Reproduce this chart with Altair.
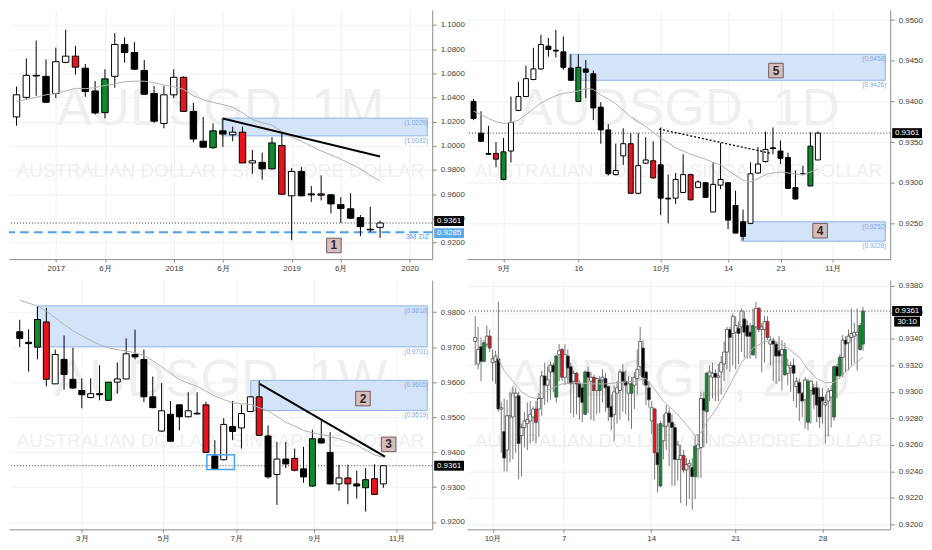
import altair as alt
import pandas as pd

CUR = 0.9361
W, H = 426, 251
FONT = "Liberation Sans"
SUBTITLE = "AUSTRALIAN DOLLAR / SINGAPORE DOLLAR"

# ---------------- Panel 1 : monthly ----------------
m_open = [1.0239, 1.0401, 1.0583, 1.0575, 1.0433, 1.0691, 1.0742, 1.0642, 1.0454, 1.0274,
          1.0575, 1.0839, 1.0772, 1.0624, 1.0433, 1.0185, 1.0422, 1.0567, 1.0285, 1.0038,
          0.9984, 1.0124, 1.0091, 1.0113, 0.9858, 0.9863, 0.9809, 1.0003, 0.9586, 0.9788,
          0.9602, 0.9602, 0.9594, 0.9513, 0.9478, 0.9406, 0.9309, 0.9325]
m_high = [1.0489, 1.0723, 1.0871, 1.0715, 1.0812, 1.0960, 1.0825, 1.0677, 1.0535, 1.0634,
          1.0933, 1.0898, 1.0858, 1.0710, 1.0495, 1.0495, 1.0634, 1.0575, 1.0355, 1.0239,
          1.0185, 1.0226, 1.0159, 1.0159, 0.9965, 0.9944, 1.0070, 1.0105, 0.9815, 0.9823,
          0.9667, 0.9755, 0.9602, 0.9575, 0.9608, 0.9427, 0.9495, 0.9379]
m_low = [1.0167, 1.0382, 1.0414, 1.0360, 1.0395, 1.0683, 1.0589, 1.0406, 1.0258, 1.0226,
         1.0481, 1.0688, 1.0629, 1.0422, 1.0191, 1.0145, 1.0395, 1.0285, 1.0030, 0.9984,
         0.9976, 0.9989, 1.0038, 0.9858, 0.9769, 0.9720, 0.9804, 0.9594, 0.9218, 0.9581,
         0.9535, 0.9548, 0.9441, 0.9360, 0.9393, 0.9253, 0.9285, 0.9237]
m_close = [1.0422, 1.0583, 1.0578, 1.0360, 1.0696, 1.0742, 1.0651, 1.0449, 1.0272, 1.0554,
           1.0839, 1.0772, 1.0634, 1.0427, 1.0204, 1.0422, 1.0567, 1.0285, 1.0056, 0.9989,
           1.0124, 1.0097, 1.0113, 0.9858, 0.9876, 0.9809, 1.0024, 0.9599, 0.9788, 0.9586,
           0.9594, 0.9591, 0.9519, 0.9481, 0.9401, 0.9331, 0.9304, 0.9361]
m_kind = list("wwbbwwrbbg" "wbbbbwwrbb" "gbwrwbgrwb" "brbbbbbw")
m_ma = [1.0366, 1.0384, 1.0401, 1.0422, 1.0433, 1.0454, 1.0476, 1.0473, 1.0481, 1.0500,
        1.0513, 1.0530, 1.0535, 1.0535, 1.0522, 1.0503, 1.0489, 1.0468, 1.0414, 1.0382,
        1.0360, 1.0341, 1.0320, 1.0272, 1.0218, 1.0191, 1.0172, 1.0118, 1.0073, 1.0038,
        0.9997, 0.9957, 0.9925, 0.9890, 0.9850, 0.9809, 0.9755, 0.9710]
m_xdom = [-0.26, 41.8]
m_ydom = [0.9062, 1.1126]
m_xticks = [4, 9, 16, 21, 28, 33, 40]
m_xlabels = ["2017", "6月", "2018", "6月", "2019", "6月", "2020"]
m_yticks = [0.92, 0.94, 0.96, 0.98, 1.00, 1.02, 1.04, 1.06, 1.08, 1.10]
m_zones = [(20.9, 41.8, 1.0229, 1.0082)]
m_trend = [([21, 37], [1.0226, 0.9911])]
m_boxes = [(32.3, 0.9175, "1")]
m_dz = 0.9285

# ---------------- Panel 2 : daily ----------------
d_open = [0.9400, 0.9361, 0.9336, 0.9336, 0.9304, 0.9339, 0.9389, 0.9406, 0.9427, 0.9440,
          0.9468, 0.9463, 0.9461, 0.9441, 0.9400, 0.9440, 0.9434, 0.9393, 0.9365, 0.9310,
          0.9333, 0.9348, 0.9287, 0.9324, 0.9327, 0.9322, 0.9281, 0.9281, 0.9288, 0.9310,
          0.9294, 0.9300, 0.9264, 0.9297, 0.9300, 0.9272, 0.9252, 0.9250, 0.9312, 0.9326,
          0.9343, 0.9339, 0.9331, 0.9294, 0.9311, 0.9296, 0.9328]
d_high = [0.9403, 0.9388, 0.9370, 0.9350, 0.9355, 0.9406, 0.9424, 0.9444, 0.9466, 0.9482,
          0.9478, 0.9488, 0.9480, 0.9458, 0.9458, 0.9451, 0.9438, 0.9399, 0.9372, 0.9348,
          0.9367, 0.9361, 0.9361, 0.9356, 0.9351, 0.9368, 0.9310, 0.9312, 0.9335, 0.9311,
          0.9303, 0.9301, 0.9325, 0.9349, 0.9301, 0.9290, 0.9267, 0.9325, 0.9344, 0.9363,
          0.9368, 0.9352, 0.9337, 0.9315, 0.9321, 0.9362, 0.9363]
d_low = [0.9377, 0.9350, 0.9334, 0.9319, 0.9303, 0.9325, 0.9388, 0.9406, 0.9426, 0.9439,
         0.9455, 0.9454, 0.9439, 0.9426, 0.9399, 0.9404, 0.9377, 0.9348, 0.9309, 0.9309,
         0.9322, 0.9286, 0.9286, 0.9324, 0.9305, 0.9260, 0.9250, 0.9274, 0.9287, 0.9278,
         0.9294, 0.9282, 0.9264, 0.9292, 0.9243, 0.9238, 0.9229, 0.9249, 0.9311, 0.9325,
         0.9335, 0.9323, 0.9293, 0.9279, 0.9309, 0.9296, 0.9328]
d_close = [0.9379, 0.9351, 0.9335, 0.9329, 0.9338, 0.9374, 0.9406, 0.9428, 0.9440, 0.9470,
           0.9464, 0.9462, 0.9442, 0.9426, 0.9442, 0.9436, 0.9392, 0.9365, 0.9311, 0.9315,
           0.9348, 0.9287, 0.9321, 0.9328, 0.9306, 0.9281, 0.9280, 0.9304, 0.9310, 0.9279,
           0.9301, 0.9282, 0.9298, 0.9304, 0.9254, 0.9238, 0.9234, 0.9311, 0.9323, 0.9341,
           0.9342, 0.9330, 0.9293, 0.9280, 0.9311, 0.9345, 0.9361]
d_kind = list("bbbrgwwwww" "bbbbgbbbbw" "wrwwrbbwwr" "wbwwbbbwww" "bbbbbgw")
d_ma = [0.9388, 0.9384, 0.9379, 0.9375, 0.9373, 0.9374, 0.9377, 0.9384, 0.9391, 0.9398,
        0.9403, 0.9407, 0.9410, 0.9411, 0.9413, 0.9416, 0.9415, 0.9408, 0.9403, 0.9397,
        0.9389, 0.9381, 0.9375, 0.9369, 0.9362, 0.9355, 0.9349, 0.9343, 0.9339, 0.9335,
        0.9332, 0.9329, 0.9325, 0.9322, 0.9315, 0.9309, 0.9303, 0.9301, 0.9305, 0.9310,
        0.9312, 0.9313, 0.9312, 0.9311, 0.9310, 0.9313, 0.9317]
d_xdom = [-0.21, 55.0]
d_ydom = [0.9206, 0.95128]
d_xticks = [4, 14, 25, 34, 41, 48]
d_xlabels = ["9月", "16", "10月", "14", "23", "11月"]
d_yticks = [0.925, 0.930, 0.935, 0.940, 0.945, 0.950]
d_zones = [(12.8, 55.0, 0.9458, 0.9426), (35.8, 55.0, 0.9252, 0.9228)]
d_trend = [([24.8, 39.8], [0.9366, 0.9336])]
d_boxes = [(40.4, 0.9438, "5"), (46.3, 0.9241, "4")]

# ---------------- Panel 3 : weekly ----------------
w_open = [0.9744, 0.9714, 0.9700, 0.9772, 0.9595, 0.9665, 0.9608, 0.9576, 0.9556, 0.9567,
          0.9548, 0.9600, 0.9609, 0.9679, 0.9665, 0.9558, 0.9460, 0.9508, 0.9535, 0.9501,
          0.9511, 0.9535, 0.9389, 0.9378, 0.9473, 0.9469, 0.9516, 0.9558, 0.9446, 0.9336,
          0.9380, 0.9382, 0.9352, 0.9303, 0.9438, 0.9399, 0.9309, 0.9326, 0.9309, 0.9298,
          0.9324, 0.9309]
w_high = [0.9778, 0.9751, 0.9817, 0.9812, 0.9693, 0.9733, 0.9698, 0.9611, 0.9611, 0.9648,
          0.9600, 0.9656, 0.9725, 0.9750, 0.9693, 0.9616, 0.9597, 0.9546, 0.9536, 0.9571,
          0.9571, 0.9544, 0.9434, 0.9497, 0.9546, 0.9535, 0.9560, 0.9604, 0.9476, 0.9429,
          0.9429, 0.9410, 0.9415, 0.9464, 0.9490, 0.9457, 0.9364, 0.9364, 0.9347, 0.9354,
          0.9365, 0.9361]
w_low = [0.9700, 0.9630, 0.9665, 0.9588, 0.9595, 0.9578, 0.9581, 0.9525, 0.9553, 0.9548,
         0.9546, 0.9567, 0.9608, 0.9665, 0.9543, 0.9525, 0.9457, 0.9429, 0.9462, 0.9499,
         0.9508, 0.9399, 0.9351, 0.9376, 0.9434, 0.9410, 0.9515, 0.9446, 0.9324, 0.9249,
         0.9354, 0.9345, 0.9312, 0.9301, 0.9424, 0.9307, 0.9289, 0.9251, 0.9267, 0.9230,
         0.9277, 0.9298]
w_close = [0.9725, 0.9710, 0.9779, 0.9608, 0.9679, 0.9622, 0.9583, 0.9564, 0.9567, 0.9564,
           0.9600, 0.9609, 0.9681, 0.9672, 0.9558, 0.9527, 0.9518, 0.9431, 0.9501, 0.9518,
           0.9509, 0.9399, 0.9352, 0.9479, 0.9459, 0.9510, 0.9558, 0.9448, 0.9329, 0.9380,
           0.9366, 0.9348, 0.9329, 0.9438, 0.9426, 0.9309, 0.9326, 0.9309, 0.9303, 0.9321,
           0.9279, 0.9361]
w_kind = list("bbgrwbbbwb" "gwwbbbwbbw" "brbwbwwrbw" "brbgbbwrbg" "rw")
w_ma = [0.9834, 0.9826, 0.9817, 0.9803, 0.9784, 0.9765, 0.9747, 0.9733, 0.9719, 0.9707,
        0.9698, 0.9693, 0.9689, 0.9684, 0.9677, 0.9661, 0.9644, 0.9625, 0.9607, 0.9597,
        0.9588, 0.9574, 0.9560, 0.9550, 0.9541, 0.9538, 0.9536, 0.9527, 0.9518, 0.9502,
        0.9485, 0.9474, 0.9462, 0.9455, 0.9450, 0.9444, 0.9438, 0.9429, 0.9420, 0.9406,
        0.9392, 0.9385]
w_xdom = [-0.65, 45.95]
w_ydom = [0.9179, 0.9892]
w_xticks = [7, 16.2, 24.4, 33.2, 42.5]
w_xlabels = ["3月", "5月", "7月", "9月", "11月"]
w_yticks = [0.92, 0.93, 0.94, 0.95, 0.96, 0.97, 0.98]
w_zones = [(1.97, 45.95, 0.9818, 0.9701), (26.05, 45.95, 0.9605, 0.9519)]
w_trend = [([27.06, 41.18], [0.9595, 0.9387])]
w_boxes = [(38.7, 0.9553, "2"), (41.6, 0.9422, "3")]
w_mark = (21.1, 24.2, 0.9392, 0.9350)

# ---------------- Panel 4 : 240 min ----------------
h_open = [.9338, .9321, .9334, .9323, .9336, .9342, .9322, .9323, .9325, .9287,
          .9270, .9256, .9281, .9281, .9296, .9297, .9267, .9273, .9276, .9278,
          .9281, .9287, .9287, .9295, .9312, .9305, .9315, .9320, .9296, .9328,
          .9332, .9311, .9327, .9319, .9308, .9314, .9306, .9303, .9283, .9315,
          .9308, .9311, .9301, .9301, .9309, .9310, .9304, .9289, .9283, .9299,
          .9301, .9315, .9308, .9299, .9299, .9305, .9310, .9319, .9333, .9315,
          .9303, .9278, .9287, .9254, .9229, .9263, .9274, .9284, .9277, .9273,
          .9249, .9249, .9252, .9241, .9244, .9243, .9236, .9257, .9258, .9295,
          .9285, .9312, .9311, .9314, .9311, .9315, .9321, .9330, .9347, .9344,
          .9345, .9348, .9349, .9355, .9350, .9345, .9328, .9349, .9363, .9347,
          .9347, .9353, .9336, .9339, .9336, .9331, .9328, .9313, .9314, .9318,
          .9320, .9304, .9307, .9299, .9294, .9277, .9301, .9303, .9303, .9296,
          .9296, .9290, .9293, .9296, .9281, .9319, .9312, .9326, .9339, .9337,
          .9341, .9342, .9343, .9332, .9336]
h_high = [.9357, .9349, .9341, .9339, .9350, .9347, .9332, .9331, .9368, .9292,
          .9295, .9294, .9300, .9304, .9303, .9300, .9276, .9285, .9292, .9293,
          .9289, .9293, .9299, .9316, .9322, .9319, .9323, .9322, .9328, .9336,
          .9333, .9336, .9332, .9322, .9316, .9315, .9309, .9306, .9316, .9319,
          .9315, .9313, .9311, .9312, .9317, .9314, .9305, .9298, .9305, .9308,
          .9317, .9321, .9316, .9312, .9311, .9315, .9332, .9349, .9339, .9316,
          .9308, .9293, .9288, .9276, .9278, .9283, .9290, .9288, .9283, .9276,
          .9263, .9260, .9256, .9250, .9249, .9250, .9267, .9268, .9300, .9300,
          .9315, .9320, .9322, .9317, .9321, .9327, .9338, .9349, .9349, .9359,
          .9357, .9353, .9363, .9361, .9354, .9352, .9363, .9368, .9364, .9352,
          .9357, .9357, .9342, .9341, .9338, .9342, .9339, .9337, .9325, .9323,
          .9325, .9311, .9310, .9300, .9311, .9310, .9309, .9306, .9308, .9303,
          .9303, .9298, .9303, .9305, .9320, .9321, .9328, .9343, .9342, .9347,
          .9363, .9352, .9363, .9352, .9364]
h_low = [.9320, .9317, .9308, .9322, .9334, .9330, .9308, .9306, .9285, .9254,
         .9240, .9240, .9247, .9249, .9254, .9234, .9236, .9258, .9256, .9261,
         .9263, .9261, .9266, .9282, .9290, .9292, .9294, .9300, .9292, .9308,
         .9308, .9305, .9306, .9284, .9281, .9283, .9279, .9277, .9283, .9284,
         .9279, .9278, .9283, .9284, .9292, .9285, .9278, .9271, .9263, .9276,
         .9279, .9285, .9283, .9278, .9272, .9287, .9298, .9312, .9305, .9290,
         .9288, .9268, .9234, .9224, .9228, .9249, .9256, .9244, .9229, .9229,
         .9233, .9216, .9239, .9214, .9219, .9211, .9219, .9235, .9235, .9258,
         .9261, .9293, .9295, .9293, .9293, .9298, .9308, .9317, .9315, .9320,
         .9317, .9321, .9330, .9326, .9325, .9325, .9327, .9325, .9345, .9315,
         .9322, .9339, .9320, .9308, .9306, .9308, .9301, .9312, .9305, .9300,
         .9293, .9288, .9278, .9281, .9272, .9271, .9276, .9287, .9277, .9273,
         .9276, .9261, .9266, .9273, .9278, .9295, .9310, .9311, .9315, .9316,
         .9320, .9322, .9316, .9331, .9331]
h_close = [.9341, .9332, .9323, .9337, .9342, .9333, .9325, .9327, .9287, .9288,
           .9250, .9282, .9282, .9299, .9299, .9261, .9273, .9278, .9279, .9283,
           .9287, .9277, .9295, .9312, .9305, .9309, .9320, .9315, .9327, .9331,
           .9311, .9328, .9318, .9306, .9314, .9306, .9296, .9292, .9315, .9311,
           .9311, .9301, .9310, .9309, .9311, .9303, .9288, .9281, .9300, .9303,
           .9315, .9308, .9305, .9306, .9306, .9311, .9317, .9338, .9311, .9305,
           .9294, .9288, .9254, .9245, .9276, .9274, .9284, .9277, .9273, .9249,
           .9260, .9252, .9241, .9245, .9246, .9236, .9259, .9260, .9295, .9286,
           .9314, .9315, .9314, .9311, .9312, .9322, .9330, .9347, .9341, .9357,
           .9350, .9344, .9361, .9345, .9342, .9342, .9350, .9363, .9347, .9349,
           .9353, .9341, .9339, .9336, .9327, .9327, .9332, .9332, .9320, .9320,
           .9314, .9308, .9299, .9293, .9309, .9308, .9308, .9298, .9290, .9281,
           .9293, .9292, .9300, .9301, .9319, .9312, .9326, .9339, .9336, .9342,
           .9344, .9345, .9345, .9350, .9361]
h_kind = list("wwbgwrwwbw" "bwwwwbwwww" "wrwwbwwbgw" "rwbbwrbbgb" "wrwgwbbbww"
              "wbbwgwwwbb" "bwrbgwwbbb" "wwrwwbgwwb" "gwwbwwwwbw" "wbwbbbgwrw"
              "wrwbbbwgww" "bwbbwgwbbb" "bwwwgbgwbw" "wwwgg")
h_ma_x = [7, 10, 13, 16, 19, 21, 23, 26, 30, 35, 40, 45, 50, 55, 59, 62, 65, 70, 73, 76,
          78, 80, 83, 87, 92, 96, 100, 103, 108, 112, 115, 118, 121, 124, 128, 131, 134]
h_ma = [.9329, .9316, .9308, .9300, .9296, .9295, .9299, .9302, .9306, .9307,
        .9306, .9306, .9307, .9308, .9310, .9302, .9293, .9283, .9275, .9267,
        .9269, .9277, .9286, .9301, .9322, .9333, .9338, .9339, .9333, .9326,
        .9317, .9310, .9307, .9307, .9315, .9321, .9326]
h_xdom = [-1.13, 141.7]
h_ydom = [0.91962, 0.93844]
h_xticks = [6, 30.6, 60.8, 89.9, 120]
h_xlabels = ["10月", "7", "14", "21", "28"]
h_yticks = [0.920, 0.922, 0.924, 0.926, 0.928, 0.930, 0.932, 0.934, 0.936, 0.938]
h_timer = (0.9353, "30:10")

KIND_DOM = ["w", "b", "r", "g"]
KIND_FILL = ["#ffffff", "#000000", "#e8141c", "#0e8a2c"]


def panel(o, h, l, c, kinds, ma_x, ma_y, xdom, ydom, xticks, xlabels, yticks, wm,
          body_w, wick_col, edge_col, edge_w, zones=(), trends=(), trend_dash=None,
          boxes=(), dz=None, mark_box=None, timer=None):
    xs = alt.Scale(domain=xdom, nice=False, zero=False)
    ys = alt.Scale(domain=ydom, nice=False, zero=False)
    expr = "".join(f"datum.value == {v} ? '{t}' : " for v, t in zip(xticks, xlabels)) + "''"
    xaxis = alt.Axis(values=xticks, labelExpr=expr, title=None, grid=True, labelFlush=False,
                     labelOverlap=False, tickSize=3, labelPadding=2, minExtent=18, maxExtent=18)
    yaxis = alt.Axis(orient="right", values=yticks, format=".4f", title=None, grid=True,
                     tickSize=4, labelPadding=4, minExtent=34, maxExtent=34, labelOverlap=False)

    def X(f):
        return alt.X(f, scale=xs, axis=xaxis)

    def Y(f):
        return alt.Y(f, scale=ys, axis=yaxis)

    df = pd.DataFrame({"i": list(range(len(o))), "o": o, "h": h, "l": l, "c": c, "k": kinds})
    layers = []
    wick = alt.Chart(df).mark_rule(color=wick_col, strokeWidth=1, clip=True).encode(
        x=X("i:Q"), y=Y("l:Q"), y2="h:Q")
    body = alt.Chart(df).mark_bar(size=body_w, stroke=edge_col, strokeWidth=edge_w,
                                  clip=True, opacity=1).encode(
        x=X("i:Q"), y=Y("o:Q"), y2="c:Q",
        fill=alt.Fill("k:N", scale=alt.Scale(domain=KIND_DOM, range=KIND_FILL), legend=None))

    wmdf = pd.DataFrame({"t": [wm], "s": [SUBTITLE]})
    layers.append(alt.Chart(wmdf).mark_text(font=FONT, fontSize=53, color="#efefef",
                                            align="center", baseline="middle").encode(
        x=alt.value(W / 2), y=alt.value(H * 0.40), text="t:N"))
    layers.append(alt.Chart(wmdf).mark_text(font=FONT, fontSize=19, color="#efefef",
                                            align="center", baseline="middle").encode(
        x=alt.value(W / 2), y=alt.value(H * 0.645), text="s:N"))
    if zones:
        zdf = pd.DataFrame(zones, columns=["x0", "x1", "y0", "y1"])
        layers.append(alt.Chart(zdf).mark_rect(fill="#d3e3f8", stroke="#8eb5ec", strokeWidth=1,
                                               clip=True, opacity=1).encode(
            x=X("x0:Q"), x2="x1:Q", y=Y("y0:Q"), y2="y1:Q"))
    curdf = pd.DataFrame({"p": [CUR]})
    layers.append(alt.Chart(curdf).mark_rule(color="#333333", strokeDash=[1, 2], strokeWidth=1).encode(
        y=Y("p:Q")))
    if dz is not None:
        dzdf = pd.DataFrame({"p": [dz], "t": ["3M DZ"]})
        layers.append(alt.Chart(dzdf).mark_rule(color="#4aa3f0", strokeDash=[9, 5], strokeWidth=2).encode(
            y=Y("p:Q")))
        layers.append(alt.Chart(dzdf).mark_text(color="#4aa3f0", fontSize=8, font=FONT, align="right",
                                                baseline="middle", dy=5).encode(
            x=alt.value(W - 3), y=Y("p:Q"), text="t:N"))
    layers.append(wick)
    layers.append(body)
    madf = pd.DataFrame({"x": ma_x, "y": ma_y})
    layers.append(alt.Chart(madf).mark_line(color="#b0b0b0", strokeWidth=1, clip=True).encode(
        x=X("x:Q"), y=Y("y:Q")))
    for tx, ty in trends:
        tdf = pd.DataFrame({"x": tx, "y": ty})
        if trend_dash:
            mk = alt.Chart(tdf).mark_line(color="#000000", strokeWidth=1.3, strokeDash=trend_dash)
        else:
            mk = alt.Chart(tdf).mark_line(color="#000000", strokeWidth=2)
        layers.append(mk.encode(x=X("x:Q"), y=Y("y:Q")))
    if mark_box is not None:
        mdf = pd.DataFrame([mark_box], columns=["x0", "x1", "y0", "y1"])
        layers.append(alt.Chart(mdf).mark_rect(fillOpacity=0, stroke="#4aa3f0", strokeWidth=1.5).encode(
            x=X("x0:Q"), x2="x1:Q", y=Y("y0:Q"), y2="y1:Q"))
    if zones:
        lab = []
        for z in zones:
            lab.append({"p": z[2], "t": f"({z[2]:.4f})"})
            lab.append({"p": z[3], "t": f"({z[3]:.4f})"})
        ldf = pd.DataFrame(lab)
        layers.append(alt.Chart(ldf).mark_text(color="#7ea9ea", fontSize=6.5, font=FONT, align="right",
                                               baseline="middle", dy=5).encode(
            x=alt.value(W - 4), y=Y("p:Q"), text="t:N"))
    if boxes:
        bdf = pd.DataFrame(boxes, columns=["x", "y", "t"])
        layers.append(alt.Chart(bdf).mark_square(size=215, fill="#d7bcbc", stroke="#6e5d5d",
                                                 strokeWidth=1, opacity=1).encode(
            x=X("x:Q"), y=Y("y:Q")))
        layers.append(alt.Chart(bdf).mark_text(fontSize=12, fontWeight="bold", color="#2a2a2a",
                                               font=FONT, baseline="middle").encode(
            x=X("x:Q"), y=Y("y:Q"), text="t:N"))
    tags = [(CUR, f"{CUR:.4f}", "#000000", 30, -2 if dz is not None else 0)]
    if dz is not None:
        tags.append((dz, f"{dz:.4f}", "#5aaaf0", 30, 1))
    if timer is not None:
        tags.append((timer[0], timer[1], "#000000", 26, 0))
    for val, txt, bg, tw, yo in tags:
        tdf = pd.DataFrame({"p": [val], "t": [txt]})
        layers.append(alt.Chart(tdf).mark_tick(orient="horizontal", size=tw, thickness=10, color=bg,
                                               opacity=1, yOffset=yo).encode(
            x=alt.value(W + 17), y=Y("p:Q")))
        layers.append(alt.Chart(tdf).mark_text(color="#ffffff", fontSize=8, font=FONT, align="center",
                                               baseline="middle", yOffset=yo).encode(
            x=alt.value(W + 17), y=Y("p:Q"), text="t:N"))
    return alt.layer(*layers).properties(width=W, height=H)


p1 = panel(m_open, m_high, m_low, m_close, m_kind, list(range(len(m_ma))), m_ma, m_xdom, m_ydom,
           m_xticks, m_xlabels, m_yticks, "AUDSGD, 1M", 6.5, "#000000", "#000000", 1,
           zones=m_zones, trends=m_trend, boxes=m_boxes, dz=m_dz)
p2 = panel(d_open, d_high, d_low, d_close, d_kind, list(range(len(d_ma))), d_ma, d_xdom, d_ydom,
           d_xticks, d_xlabels, d_yticks, "AUDSGD, 1D", 5, "#000000", "#000000", 1,
           zones=d_zones, trends=d_trend, trend_dash=[2, 2], boxes=d_boxes)
p3 = panel(w_open, w_high, w_low, w_close, w_kind, list(range(len(w_ma))), w_ma, w_xdom, w_ydom,
           w_xticks, w_xlabels, w_yticks, "AUDSGD, 1W", 6, "#000000", "#000000", 1,
           zones=w_zones, trends=w_trend, boxes=w_boxes, mark_box=w_mark)
p4 = panel(h_open, h_high, h_low, h_close, h_kind, h_ma_x, h_ma, h_xdom, h_ydom,
           h_xticks, h_xlabels, h_yticks, "AUDSGD, 240", 3, "#777777", "#4a4a4a", 0.8,
           timer=h_timer)

chart = alt.vconcat(
    alt.hconcat(p1, p2, spacing=0),
    alt.hconcat(p3, p4, spacing=0),
    spacing=3,
).properties(padding=0, background="#ffffff").configure_view(stroke=None).configure_axis(
    labelFont=FONT, labelFontSize=8, labelColor="#3c3c3c", domainColor="#8c8c8c",
    tickColor="#8c8c8c", gridColor="#edf1f6", gridWidth=1)

chart.save("out.html", embed_options={"renderer": "svg", "actions": False})
